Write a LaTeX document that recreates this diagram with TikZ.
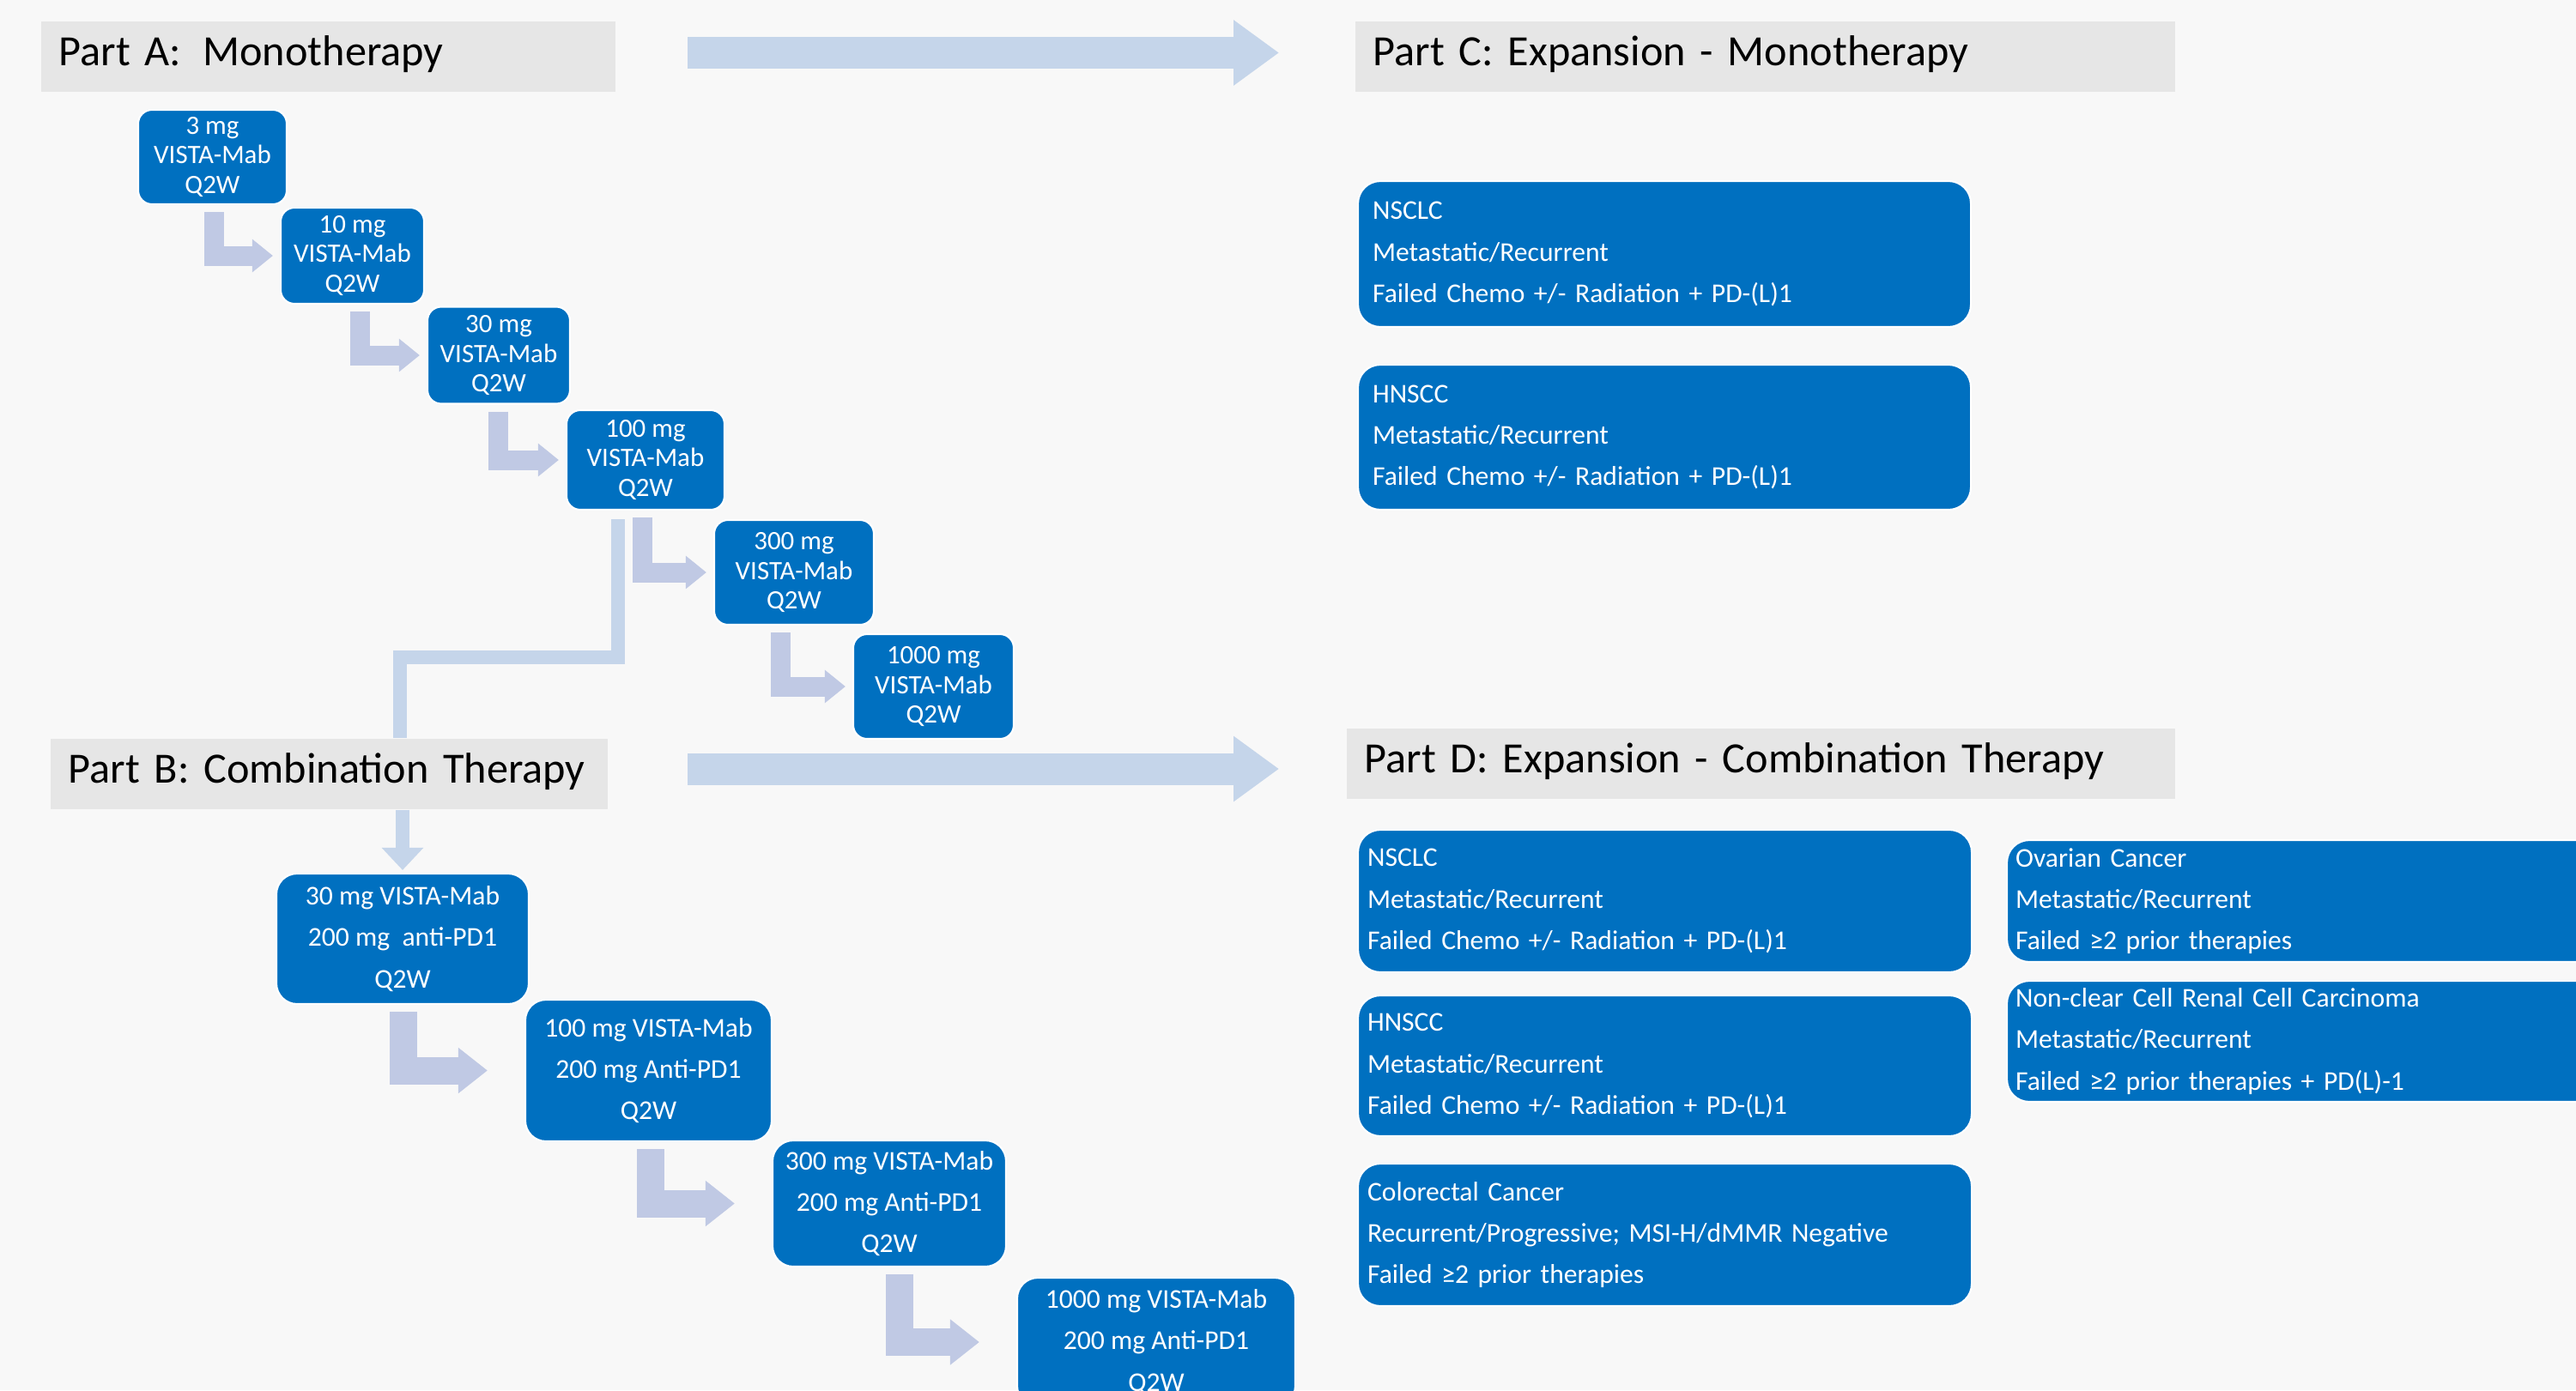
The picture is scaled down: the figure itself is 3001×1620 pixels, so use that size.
\documentclass[tikz,border=0pt]{standalone}
\usepackage{fontspec}
\setmainfont{Carlito}
\usetikzlibrary{arrows.meta,calc}

\definecolor{pagegray}{RGB}{248,248,248}
\definecolor{titlegray}{RGB}{230,230,230}
\definecolor{doseblue}{RGB}{0,112,192}
\definecolor{flowblue}{RGB}{197,213,234}
\definecolor{stepblue}{RGB}{192,201,228}

\tikzset{
  phase/.style={fill=titlegray, anchor=west, minimum height=8.2mm, inner xsep=2.1mm, text depth=0.4em, align=left, font=\fontsize{14.3}{17}\selectfont},
  dose/.style={fill=doseblue, draw=white, semithick, rounded corners=1.6mm, text=white, align=center, inner sep=0pt, font=\fontsize{8.8}{9.9}\selectfont},
  combo/.style={dose, rounded corners=2.4mm, font=\fontsize{9}{13.7}\selectfont},
  cohort/.style={dose, anchor=west, rounded corners=2.6mm, align=left, inner xsep=1.7mm, font=\fontsize{9}{13.7}\selectfont},
  advance/.style={draw=flowblue, line width=3.7mm, -{Triangle[length=5.3mm,width=7.3mm]}},
  feed/.style={draw=flowblue, line width=1.6mm},
  escalate/.style={draw=stepblue, line width=2.3mm, -{Triangle[length=2.4mm,width=3.7mm]}},
  climb/.style={draw=stepblue, line width=3.2mm, -{Triangle[length=3.4mm,width=5.1mm]}}
}

\begin{document}
\begin{tikzpicture}[x=0.1mm,y=-0.1mm]
  \clip (0,0) rectangle (3001,1620);
  \fill[pagegray] (0,0) rectangle (3001,1620);

  \node[phase, text width=62.7mm] (pA) at (47,66) {\mbox{Part A:\enspace Monotherapy}};
  \node[phase, text width=60.7mm] (pB) at (58,902) {\mbox{Part B: Combination Therapy}};
  \node[phase, text width=91.3mm] (pC) at (1578,66) {\mbox{Part C: Expansion - Monotherapy}};
  \node[phase, text width=92.3mm] (pD) at (1568,890) {\mbox{Part D: Expansion - Combination Therapy}};

  \node[dose, minimum width=17.3mm, minimum height=11.0mm] (m1) at (247.5,183) {3 mg\\VISTA-Mab\\Q2W};
  \node[dose, minimum width=16.7mm, minimum height=11.2mm] (m2) at (410.5,298) {10 mg\\VISTA-Mab\\Q2W};
  \node[dose, minimum width=16.6mm, minimum height=11.3mm] (m3) at (581,414) {30 mg\\VISTA-Mab\\Q2W};
  \node[dose, minimum width=18.4mm, minimum height=11.6mm] (m4) at (752,536) {100 mg\\VISTA-Mab\\Q2W};
  \node[dose, minimum width=18.6mm, minimum height=12.2mm] (m5) at (925,667) {300 mg\\VISTA-Mab\\Q2W};
  \node[dose, minimum width=18.7mm, minimum height=12.2mm] (m6) at (1087.5,800) {1000 mg\\VISTA-Mab\\Q2W};

  \node[combo, minimum width=29.4mm, minimum height=15.2mm] (b1) at (469,1094) {30 mg VISTA-Mab\\200 mg~ anti-PD1\\Q2W};
  \node[combo, minimum width=28.7mm, minimum height=16.5mm] (b2) at (755.5,1247.5) {100 mg VISTA-Mab\\200 mg Anti-PD1\\Q2W};
  \node[combo, minimum width=27.2mm, minimum height=14.7mm] (b3) at (1036,1402.5) {300 mg VISTA-Mab\\200 mg Anti-PD1\\Q2W};
  \node[combo, minimum width=32.4mm, minimum height=15.0mm] (b4) at (1347,1564) {1000 mg VISTA-Mab\\200 mg Anti-PD1\\Q2W};

  \node[cohort, text width=68mm, minimum height=17mm] (c1) at (1581,296) {NSCLC\\Metastatic/Recurrent\\Failed Chemo +/- Radiation + PD-(L)1};
  \node[cohort, text width=68mm, minimum height=16.9mm] (c2) at (1581,509.5) {HNSCC\\Metastatic/Recurrent\\Failed Chemo +/- Radiation + PD-(L)1};

  \node[cohort, inner xsep=1.1mm, text width=69.3mm, minimum height=16.6mm] (d1) at (1581,1050) {NSCLC\\Metastatic/Recurrent\\Failed Chemo +/- Radiation + PD-(L)1};
  \node[cohort, inner xsep=1.1mm, text width=69.3mm, minimum height=16.4mm] (d2) at (1581,1242) {HNSCC\\Metastatic/Recurrent\\Failed Chemo +/- Radiation + PD-(L)1};
  \node[cohort, inner xsep=1.1mm, text width=69.3mm, minimum height=16.6mm] (d3) at (1581,1439) {Colorectal Cancer\\Recurrent/Progressive; MSI-H/dMMR Negative\\Failed ≥2 prior therapies};
  \node[cohort, inner xsep=1.0mm, text width=70mm, minimum height=14.2mm] (d4) at (2337,1050) {Ovarian Cancer\\Metastatic/Recurrent\\Failed ≥2 prior therapies};
  \node[cohort, inner xsep=1.0mm, text width=70mm, minimum height=14.1mm] (d5) at (2337,1213.5) {Non-clear Cell Renal Cell Carcinoma\\Metastatic/Recurrent\\Failed ≥2 prior therapies + PD(L)-1};

  \draw[advance] ($(pA.east)+(84,-4.5)$) -- ($(pA.east -| pC.west)+(-88,-4.5)$);
  \draw[advance] ($(pB.east)+(93,-6)$) -- ($(pB.east -| pD.west)+(-78,-6)$);

  \coordinate (split) at (466,766);
  \draw[feed] ($(m4.south)+(-32,10)$) |- (split) -- (split |- pB.north);
  \draw[feed, -{Triangle[length=2.6mm,width=4.7mm]}, shorten >=0.3mm] (pB.south -| b1.north) -- (b1.north);

  \foreach \a/\b/\dx in {m1/m2/2, m2/m3/9, m3/m4/-1, m4/m5/-4, m5/m6/-16}
    \draw[escalate] ($(\a.south)+(\dx,8)$) |- ($(\b.west)+(-8,0)$);
  \foreach \a/\b/\dx in {b1/b2/1, b2/b3/2, b3/b4/12}
    \draw[climb] ($(\a.south)+(\dx,8)$) |- ($(\b.west)+(-43,0)$);
\end{tikzpicture}
\end{document}
